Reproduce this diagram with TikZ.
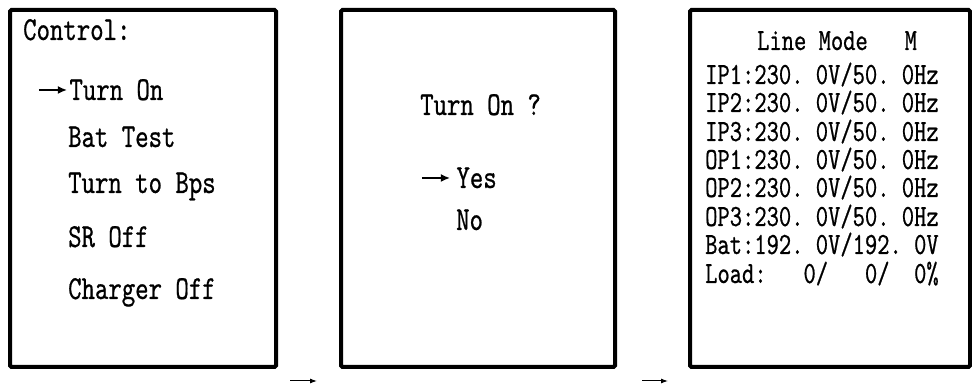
\documentclass[tikz,border=0pt]{standalone}
\usepackage{fontspec}
\usetikzlibrary{arrows.meta,positioning}
\newfontfamily\lcdfont[FakeStretch=0.76,FakeBold=0.6]{lmmono10-regular.otf}
\newcommand\pickarrow{\tikz[baseline=0pt]\draw[line width=1.3pt,-{Latex[length=9pt,width=8pt]}] (0pt,10pt) -- (28pt,10pt);}
\tikzset{
  lcd frame/.style={draw=black, line width=4pt, rounded corners=1.5pt, inner sep=0pt},
  lcd text/.style={font=\lcdfont\fontsize{33.6}{38}\selectfont, anchor=base west, inner sep=0pt},
  lcd small/.style={font=\lcdfont\fontsize{30.8}{35}\selectfont, anchor=base west, inner sep=0pt},
  step arrow/.style={line width=1pt, -{Latex[length=7pt,width=5pt]}},
}

\begin{document}
\begin{tikzpicture}[x=1pt,y=1pt]
  \useasboundingbox (0,0) rectangle (972,385);

  % Control menu screen
  \node[lcd frame, minimum width=266pt, minimum height=357pt] (menu) at (143,196.5) {};
  \node[lcd text] (ctrl) at (23,345) {Control:};
  \node[lcd text] (turnon) at (38,285) {\pickarrow\hspace{2pt}Turn On};
  \node[lcd text] (battest) at (68,238) {Bat Test};
  \node[lcd text] (tobps) at (68,192) {Turn to Bps};
  \node[lcd text] (sroff) at (68,138) {SR Off};
  \node[lcd text] (chgoff) at (68,86) {Charger Off};

  % Confirm screen
  \node[lcd frame, minimum width=274pt, minimum height=357pt] (confirm) at (478,196.5) {};
  \node[lcd text] (ask) at (420,270) {Turn On ?};
  \node[lcd text] (yes) at (421,197) {\pickarrow\hspace{6pt}Yes};
  \node[lcd text] (no) at (456,155) {No};

  % Status screen after turn on
  \node[lcd frame, minimum width=280pt, minimum height=357pt] (status) at (830,196.5) {};
  \node[lcd small] (mode) at (757,335) {Line Mode~~~M};
  \node[lcd small] (ip1) at (705,301) {IP1:230.~0V/50.~0Hz};
  \node[lcd small] (ip2) at (705,273) {IP2:230.~0V/50.~0Hz};
  \node[lcd small] (ip3) at (705,244) {IP3:230.~0V/50.~0Hz};
  \node[lcd small] (op1) at (705,216) {OP1:230.~0V/50.~0Hz};
  \node[lcd small] (op2) at (705,188) {OP2:230.~0V/50.~0Hz};
  \node[lcd small] (op3) at (705,159) {OP3:230.~0V/50.~0Hz};
  \node[lcd small] (bat) at (705,131) {Bat:192.~0V/192.~0V};
  \node[lcd small] (load) at (705,102) {Load:~~~0/~~~0/~~0\%};

  % small step arrows under the gaps
  \coordinate (step1) at (290,4);
  \coordinate (step1end) at (317,4);
  \coordinate (step2) at (642,4);
  \coordinate (step2end) at (668,4);
  \draw[step arrow] (step1) -- (step1end);
  \draw[step arrow] (step2) -- (step2end);
\end{tikzpicture}
\end{document}
